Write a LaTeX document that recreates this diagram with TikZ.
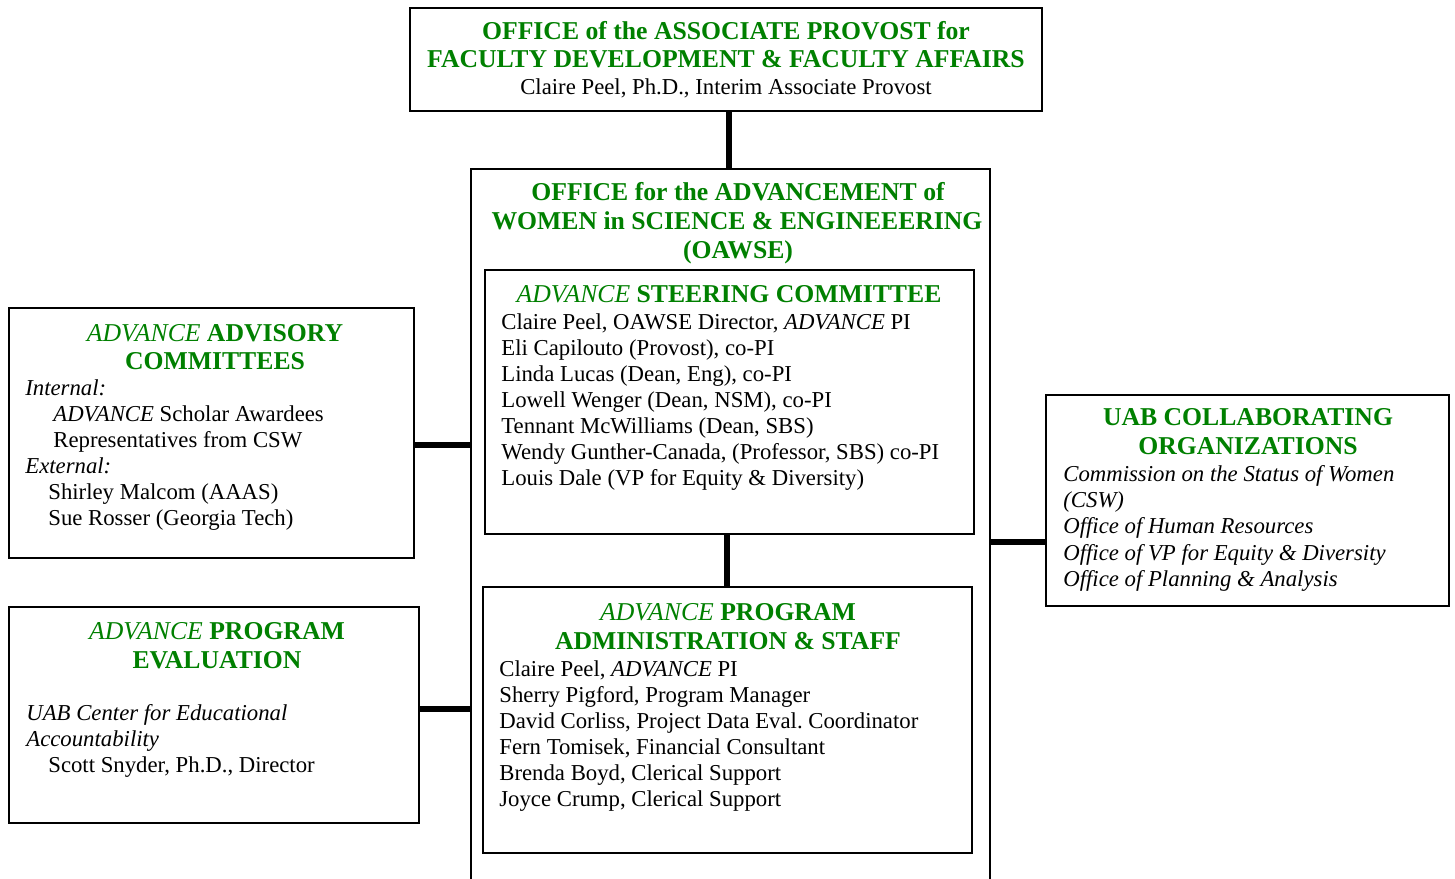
\documentclass[tikz,border=0pt]{standalone}
\usepackage{fontspec}
\setmainfont{Liberation Serif}
\usetikzlibrary{fit}
\definecolor{ttlgreen}{RGB}{0,128,0}
\tikzset{
  box/.style={draw=black, line width=1pt, inner sep=0pt},
  conn/.style={line width=3.6pt, draw=black},
  tl/.style={inner sep=0pt, font=\fontsize{12.4}{14}\selectfont},
  tli/.style={tl, font=\fontsize{12.4}{14}\selectfont\itshape},
  ttl/.style={inner sep=0pt, text=ttlgreen, font=\fontsize{14}{16}\selectfont\bfseries},
}
\newcommand{\advword}{\textmd{\textit{ADVANCE}}}
\frenchspacing
\begin{document}
\begin{tikzpicture}[x=0.545pt, y=-0.545pt]
\useasboundingbox (0,0) rectangle (1455,879);
\clip (0,0) rectangle (1455,879);
\fill[white] (0,0) rectangle (1455,879);

% boxes
\node[box, fit={(410,8) (1042,111)}] (top) {};
\node[box, fit={(471,169) (990,930)}] (oawse) {};
\node[box, fit={(485,270) (974,534)}] (steer) {};
\node[box, fit={(483,587) (972,853)}] (admin) {};
\node[box, fit={(9,308) (414,558)}] (adv) {};
\node[box, fit={(9,607) (419,823)}] (eval) {};
\node[box, fit={(1046,395) (1449,606)}] (uab) {};

% connectors
\coordinate (ctop) at (729,0);
\coordinate (cmid) at (727,0);
\coordinate (cadv) at (0,445);
\coordinate (ceval) at (0,709);
\coordinate (cuab) at (0,542);
\draw[conn] (top.south -| ctop) -- (oawse.north -| ctop);
\draw[conn] (steer.south -| cmid) -- (admin.north -| cmid);
\draw[conn] (adv.east |- cadv) -- (oawse.west |- cadv);
\draw[conn] (eval.east |- ceval) -- (oawse.west |- ceval);
\draw[conn] (oawse.east |- cuab) -- (uab.west |- cuab);

% top box
\node[ttl, anchor=base] (t1) at (726,40) {OFFICE of the ASSOCIATE PROVOST for};
\node[ttl, anchor=base] (t2) at (726,68) {FACULTY DEVELOPMENT \& FACULTY AFFAIRS};
\node[tl, anchor=base] (t3) at (726,95) {Claire Peel, Ph.D., Interim Associate Provost};

% OAWSE
\node[ttl, anchor=base] (o1) at (738,201) {OFFICE for the ADVANCEMENT of};
\node[ttl, anchor=base] (o2) at (737,230) {WOMEN in SCIENCE \& ENGINEEERING};
\node[ttl, anchor=base] (o3) at (738,259) {(OAWSE)};

% steering
\node[ttl, anchor=base] (s0) at (729,303) {\advword{} STEERING COMMITTEE};
\node[tl, anchor=base west] (s1) at (501,330) {Claire Peel, OAWSE Director, \textit{ADVANCE} PI};
\node[tl, anchor=base west] (s2) at (501,356) {Eli Capilouto (Provost), co-PI};
\node[tl, anchor=base west] (s3) at (501,382) {Linda Lucas (Dean, Eng), co-PI};
\node[tl, anchor=base west] (s4) at (501,408) {Lowell Wenger (Dean, NSM), co-PI};
\node[tl, anchor=base west] (s5) at (501,434) {Tennant McWilliams (Dean, SBS)};
\node[tl, anchor=base west] (s6) at (501,460) {Wendy Gunther-Canada, (Professor, SBS) co-PI};
\node[tl, anchor=base west] (s7) at (501,486) {Louis Dale (VP for Equity \& Diversity)};

% admin
\node[ttl, anchor=base] (a0) at (728,620) {\advword{} PROGRAM};
\node[ttl, anchor=base] (a1) at (728,649) {ADMINISTRATION \& STAFF};
\node[tl, anchor=base west] (a2) at (499,676) {Claire Peel, \textit{ADVANCE} PI};
\node[tl, anchor=base west] (a3) at (499,702) {Sherry Pigford, Program Manager};
\node[tl, anchor=base west] (a4) at (499,728) {David Corliss, Project Data Eval. Coordinator};
\node[tl, anchor=base west] (a5) at (499,754) {Fern Tomisek, Financial Consultant};
\node[tl, anchor=base west] (a6) at (499,780) {Brenda Boyd, Clerical Support};
\node[tl, anchor=base west] (a7) at (499,806) {Joyce Crump, Clerical Support};

% advisory
\node[ttl, anchor=base] (v0) at (215,342) {\advword{} ADVISORY};
\node[ttl, anchor=base] (v1) at (215,370) {COMMITTEES};
\node[tli, anchor=base west] (v2) at (25,396) {Internal:};
\node[tl, anchor=base west] (v3) at (53,422) {\textit{ADVANCE} Scholar Awardees};
\node[tl, anchor=base west] (v4) at (53,448) {Representatives from CSW};
\node[tli, anchor=base west] (v5) at (25,474) {External:};
\node[tl, anchor=base west] (v6) at (48,500) {Shirley Malcom (AAAS)};
\node[tl, anchor=base west] (v7) at (48,526) {Sue Rosser (Georgia Tech)};

% evaluation
\node[ttl, anchor=base] (e0) at (217,639) {\advword{} PROGRAM};
\node[ttl, anchor=base] (e1) at (217,668) {EVALUATION};
\node[tli, anchor=base west] (e2) at (26,720) {UAB Center for Educational};
\node[tli, anchor=base west] (e3) at (26,746) {Accountability};
\node[tl, anchor=base west] (e4) at (48,772) {Scott Snyder, Ph.D., Director};

% UAB
\node[ttl, anchor=base] (u0) at (1248,426) {UAB COLLABORATING};
\node[ttl, anchor=base] (u1) at (1248,455) {ORGANIZATIONS};
\node[tli, anchor=base west] (u2) at (1063,482) {Commission on the Status of Women};
\node[tli, anchor=base west] (u3) at (1063,508) {(CSW)};
\node[tli, anchor=base west] (u4) at (1063,534) {Office of Human Resources};
\node[tli, anchor=base west] (u5) at (1063,560) {Office of VP for Equity \& Diversity};
\node[tli, anchor=base west] (u6) at (1063,586) {Office of Planning \& Analysis};
\end{tikzpicture}
\end{document}
